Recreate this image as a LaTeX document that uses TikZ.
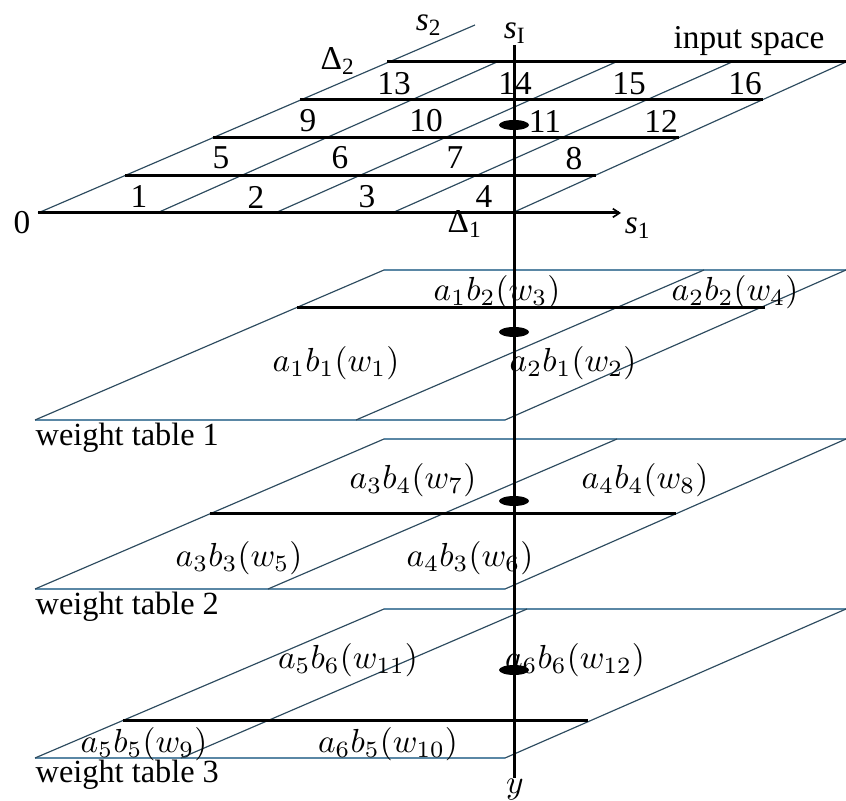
\documentclass[tikz,border=0pt]{standalone}
\usepackage{fontspec}
\setmainfont{Liberation Serif}
\usetikzlibrary{shapes.geometric,arrows.meta}
\definecolor{diagcol}{RGB}{45,75,95}
\definecolor{edgecol}{RGB}{90,135,165}
\begin{document}
\begin{tikzpicture}[x=0.3pt,y=-0.3pt,
  thickline/.style={line width=0.9pt,draw=black},
  thinline/.style={line width=0.35pt,draw=diagcol},
  edgeline/.style={line width=0.45pt,draw=edgecol},
  lab/.style={inner sep=0pt,font=\fontsize{10}{12}\selectfont},
  numlab/.style={inner sep=0pt,font=\fontsize{10}{12}\selectfont},
  wlab/.style={inner sep=0pt,anchor=west,font=\fontsize{9.7}{12}\selectfont},
  dotnode/.style={ellipse,fill=black,draw=none,inner sep=0pt,minimum width=9pt,minimum height=3pt}]
\fill[white] (0,0) rectangle (846,801);
\useasboundingbox (0,0) rectangle (846,801);

% ---------- input space ----------
\coordinate (O) at (38,213);
\coordinate (s2end) at (475,25);
\coordinate (s1end) at (621,213);
% diagonals
\draw[thinline] (O) -- (s2end);
\draw[thinline] (157,213) -- (497,62);
\draw[thinline] (275,213) -- (616,62);
\draw[thinline] (392,213) -- (732,62);
\draw[thinline] (512,213) -- (846,62);
% horizontal lines
\draw[thickline,-{Straight Barb[length=2pt,width=2.6pt,line width=0.5pt]}] (O) -- (s1end);
\draw[thickline] (125,175.25) -- (595.5,175.25);
\draw[thickline] (212.5,137.5) -- (679,137.5);
\draw[thickline] (299.75,99.75) -- (762.5,99.75);
\draw[thickline] (387,62) -- (846,62);

% ---------- weight table 1 ----------
\coordinate (a1) at (35,420); \coordinate (b1) at (505,420);
\coordinate (c1) at (846,270); \coordinate (d1) at (384,270);
\draw[edgeline] (a1) -- (b1);
\draw[edgeline] (d1) -- (c1);
\draw[thinline] (a1) -- (d1);
\draw[thinline] (b1) -- (c1);
\draw[thinline] (356,420) -- (704,270);
\draw[thickline] (297,307.5) -- (765,307.5);

% ---------- weight table 2 ----------
\coordinate (a2) at (35,589); \coordinate (b2) at (505,589);
\coordinate (c2) at (846,439); \coordinate (d2) at (384,439);
\draw[edgeline] (a2) -- (b2);
\draw[edgeline] (d2) -- (c2);
\draw[thinline] (a2) -- (d2);
\draw[thinline] (b2) -- (c2);
\draw[thinline] (268,589) -- (617,439);
\draw[thickline] (209.5,514) -- (675.5,514);

% ---------- weight table 3 ----------
\coordinate (a3) at (35,758); \coordinate (b3) at (505,758);
\coordinate (c3) at (846,609); \coordinate (d3) at (384,609);
\draw[edgeline] (a3) -- (b3);
\draw[edgeline] (d3) -- (c3);
\draw[thinline] (a3) -- (d3);
\draw[thinline] (b3) -- (c3);
\draw[thinline] (181,758) -- (527,609);
\draw[thickline] (122.5,720.5) -- (588,720.5);

% ---------- vertical axis ----------
\coordinate (vtop) at (514,45);
\coordinate (vbot) at (514,778);
\draw[thickline] (vtop) -- (vbot);
\node[dotnode] (p0) at (514,125) {};
\node[dotnode] (p1) at (514,332) {};
\node[dotnode] (p2) at (514,501) {};
\node[dotnode] (p3) at (514,670) {};

% ---------- labels input space ----------
\node[numlab] (n1) at (139,197) {1};
\node[numlab] (n2) at (256,197) {2};
\node[numlab] (n3) at (367,197) {3};
\node[numlab] (n4) at (484,197) {4};
\node[numlab] (n5) at (221,158) {5};
\node[numlab] (n6) at (340,158) {6};
\node[numlab] (n7) at (455,158) {7};
\node[numlab] (n8) at (574,159) {8};
\node[numlab] (n9) at (308,121) {9};
\node[numlab] (n10) at (426,121) {10};
\node[numlab] (n11) at (545,122) {11};
\node[numlab] (n12) at (661,121) {12};
\node[numlab] (n13) at (394,84) {13};
\node[numlab] (n14) at (515,84) {14};
\node[numlab] (n15) at (629,84) {15};
\node[numlab] (n16) at (745,84) {16};
\node[numlab] (zero) at (22,223) {0};
\node[lab] (D1) at (465,224) {Δ\textsubscript{1}};
\node[lab] (D2) at (338,61) {Δ\textsubscript{2}};
\node[lab] (S1) at (638,228) {\textit{s}\textsubscript{1}};
\node[lab] (S2) at (429,25) {\textit{s}\textsubscript{2}};
\node[lab] (SI) at (515,33) {\textit{s}\textsubscript{I}};
\node[lab] (insp) at (749,41) {input space};

% ---------- labels weight table 1 ----------
\node[lab] (w3) at (497,292) {$a_1b_2(w_3)$};
\node[lab] (w4) at (735,292) {$a_2b_2(w_4)$};
\node[lab] (w1) at (336,363) {$a_1b_1(w_1)$};
\node[lab] (w2) at (573,363) {$a_2b_1(w_2)$};
\node[wlab] (t1) at (35,438) {weight table 1};

% ---------- labels weight table 2 ----------
\node[lab] (w7) at (413,480) {$a_3b_4(w_7)$};
\node[lab] (w8) at (645,480) {$a_4b_4(w_8)$};
\node[lab] (w5) at (239,558) {$a_3b_3(w_5)$};
\node[lab] (w6) at (470,558) {$a_4b_3(w_6)$};
\node[wlab] (t2) at (35,607) {weight table 2};

% ---------- labels weight table 3 ----------
\node[lab] (w11) at (348,660) {$a_5b_6(w_{11})$};
\node[lab] (w12) at (575,660) {$a_6b_6(w_{12})$};
\node[lab] (w9) at (144,744) {$a_5b_5(w_9)$};
\node[lab] (w10) at (388,744) {$a_6b_5(w_{10})$};
\node[wlab] (t3) at (35,775) {weight table 3};
\node[lab] (ylab) at (515,790) {$y$};
\end{tikzpicture}
\end{document}
